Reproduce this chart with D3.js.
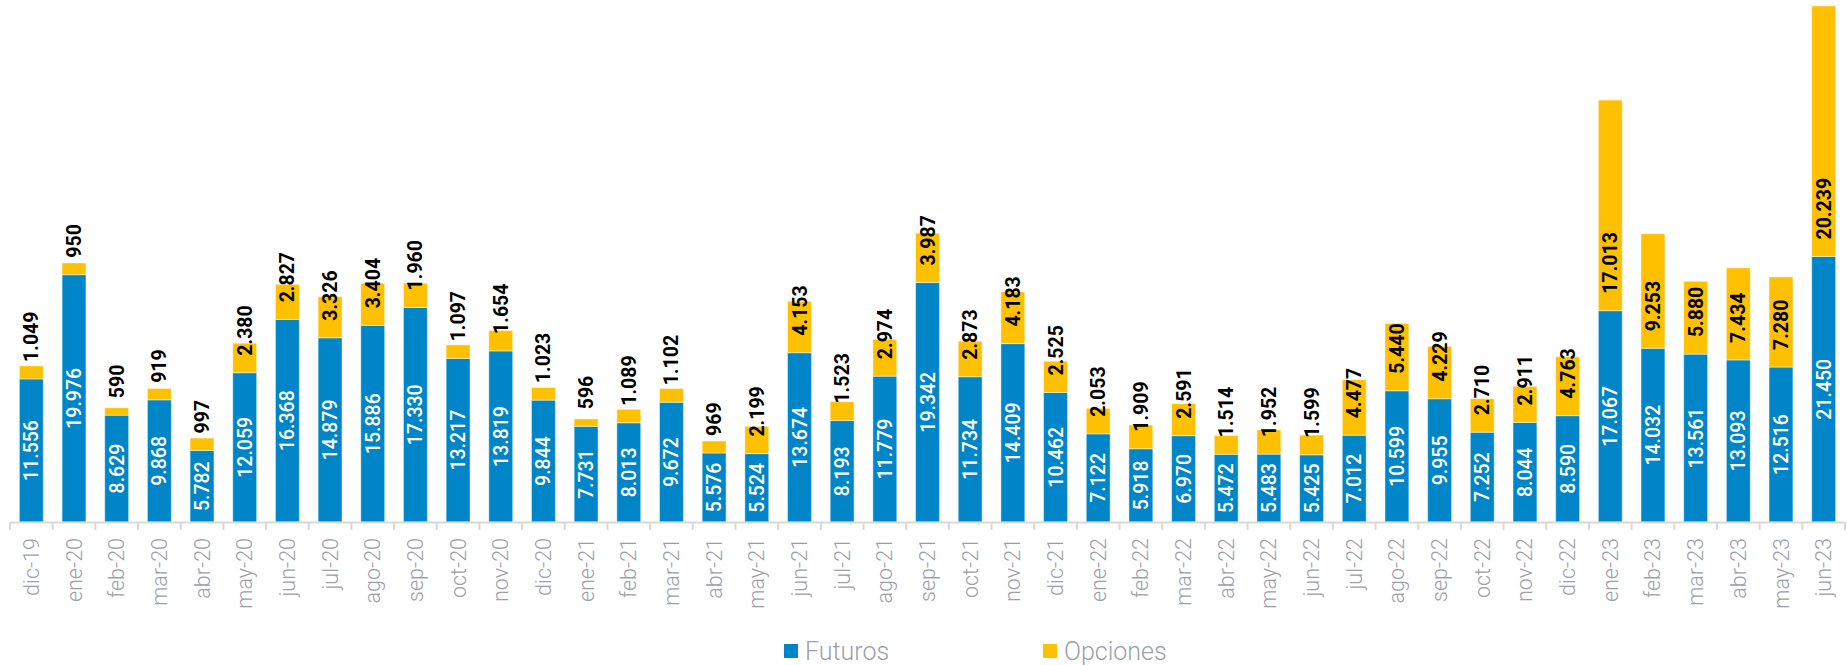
<!DOCTYPE html>
<html>
<head>
<meta charset="utf-8">
<script src="https://cdn.jsdelivr.net/npm/d3@7"></script>
<style>
  body { margin: 0; background: #fff; }
  svg { display: block; font-family: Roboto, "Noto Sans", sans-serif; }
</style>
</head>
<body>
<div id="chart"></div>
<script>
// months, dic-19 .. jun-23
const categories = ["dic-19","ene-20","feb-20","mar-20","abr-20","may-20","jun-20","jul-20","ago-20","sep-20","oct-20","nov-20","dic-20",
  "ene-21","feb-21","mar-21","abr-21","may-21","jun-21","jul-21","ago-21","sep-21","oct-21","nov-21","dic-21",
  "ene-22","feb-22","mar-22","abr-22","may-22","jun-22","jul-22","ago-22","sep-22","oct-22","nov-22","dic-22",
  "ene-23","feb-23","mar-23","abr-23","may-23","jun-23"];
const futuros = [11556,19976,8629,9868,5782,12059,16368,14879,15886,17330,13217,13819,9844,
  7731,8013,9672,5576,5524,13674,8193,11779,19342,11734,14409,10462,
  7122,5918,6970,5472,5483,5425,7012,10599,9955,7252,8044,8590,
  17067,14032,13561,13093,12516,21450];
const opciones = [1049,950,590,919,997,2380,2827,3326,3404,1960,1097,1654,1023,
  596,1089,1102,969,2199,4153,1523,2974,3987,2873,4183,2525,
  2053,1909,2591,1514,1952,1599,4477,5440,4229,2710,2911,4763,
  17013,9253,5880,7434,7280,20239];
const seriesNames = ["Futuros", "Opciones"];
const colors = ["#0086c8", "#ffc000"];

const W = 1847, H = 665;
const fmt = v => d3.format(",")(v).replace(/,/g, ".");

const svg = d3.select("#chart").append("svg")
    .attr("width", W)
    .attr("height", H);

const x = d3.scaleBand()
    .domain(categories)
    .range([10, 1845])
    .paddingInner(0.44)
    .paddingOuter(0.22);

const y = d3.scaleLinear()
    .domain([0, 42000])
    .range([522, 2]);

// stacked data
const rows = categories.map((c, i) => ({ cat: c, Futuros: futuros[i], Opciones: opciones[i] }));
const stacked = d3.stack().keys(seriesNames)(rows);

const layers = svg.append("g").selectAll("g")
  .data(stacked)
  .enter().append("g")
    .attr("fill", (d, i) => colors[i]);

layers.selectAll("rect")
  .data(d => d)
  .enter().append("rect")
    .attr("x", d => x(d.data.cat))
    .attr("y", d => y(d[1]))
    .attr("width", x.bandwidth())
    .attr("height", d => y(d[0]) - y(d[1]))
    .attr("stroke", "rgba(255,255,255,0.45)")
    .attr("stroke-width", 1);

// axis line + ticks between categories
const axis = svg.append("g");
axis.append("line")
    .attr("x1", 10).attr("x2", 1845)
    .attr("y1", 522.5).attr("y2", 522.5)
    .attr("stroke", "#d9d9d9").attr("stroke-width", 2);
axis.selectAll(".tick")
  .data(d3.range(categories.length + 1))
  .enter().append("line")
    .attr("x1", i => 10 + i * x.step()).attr("x2", i => 10 + i * x.step())
    .attr("y1", 522).attr("y2", 530)
    .attr("stroke", "#d9d9d9").attr("stroke-width", 2);

axis.selectAll(".lbl")
  .data(categories)
  .enter().append("text")
    .attr("transform", d => "translate(" + (x(d) + x.bandwidth() / 2) + ",538) rotate(-90)")
    .attr("text-anchor", "end")
    .attr("dy", "0.35em")
    .attr("fill", "#9a9fab")
    .attr("font-size", 21.5)
    .attr("font-weight", 300)
    .text(d => d);

// value labels: futuros centered in white, opciones from the base upward in black
const labels = svg.append("g");
labels.selectAll(".fut")
  .data(stacked[0])
  .enter().append("text")
    .attr("transform", d => "translate(" + (x(d.data.cat) + x.bandwidth() / 2) + "," + ((y(d[0]) + y(d[1])) / 2) + ") rotate(-90)")
    .attr("text-anchor", "middle")
    .attr("dy", "0.36em")
    .attr("fill", "#fff")
    .attr("font-size", 19.5)
    .attr("font-weight", 500)
    .text(d => fmt(d.data.Futuros));

labels.selectAll(".opc")
  .data(stacked[1])
  .enter().append("text")
    .attr("transform", d => "translate(" + (x(d.data.cat) + x.bandwidth() / 2) + "," + (y(d[0]) - 17) + ") rotate(-90)")
    .attr("text-anchor", "start")
    .attr("dy", "0.36em")
    .attr("fill", "#000")
    .attr("font-size", 19.5)
    .attr("font-weight", 700)
    .text(d => fmt(d.data.Opciones));

// legend
const legendX = [784, 1043];
const legend = svg.append("g").selectAll("g")
  .data(seriesNames)
  .enter().append("g")
    .attr("transform", (d, i) => "translate(" + legendX[i] + ",644)");
legend.append("rect")
    .attr("width", 14).attr("height", 14)
    .attr("fill", (d, i) => colors[i]);
legend.append("text")
    .attr("x", 21).attr("y", 15.5)
    .attr("fill", "#9a9fab")
    .attr("font-size", 25)
    .attr("font-weight", 300)
    .text(d => d);
</script>
</body>
</html>
